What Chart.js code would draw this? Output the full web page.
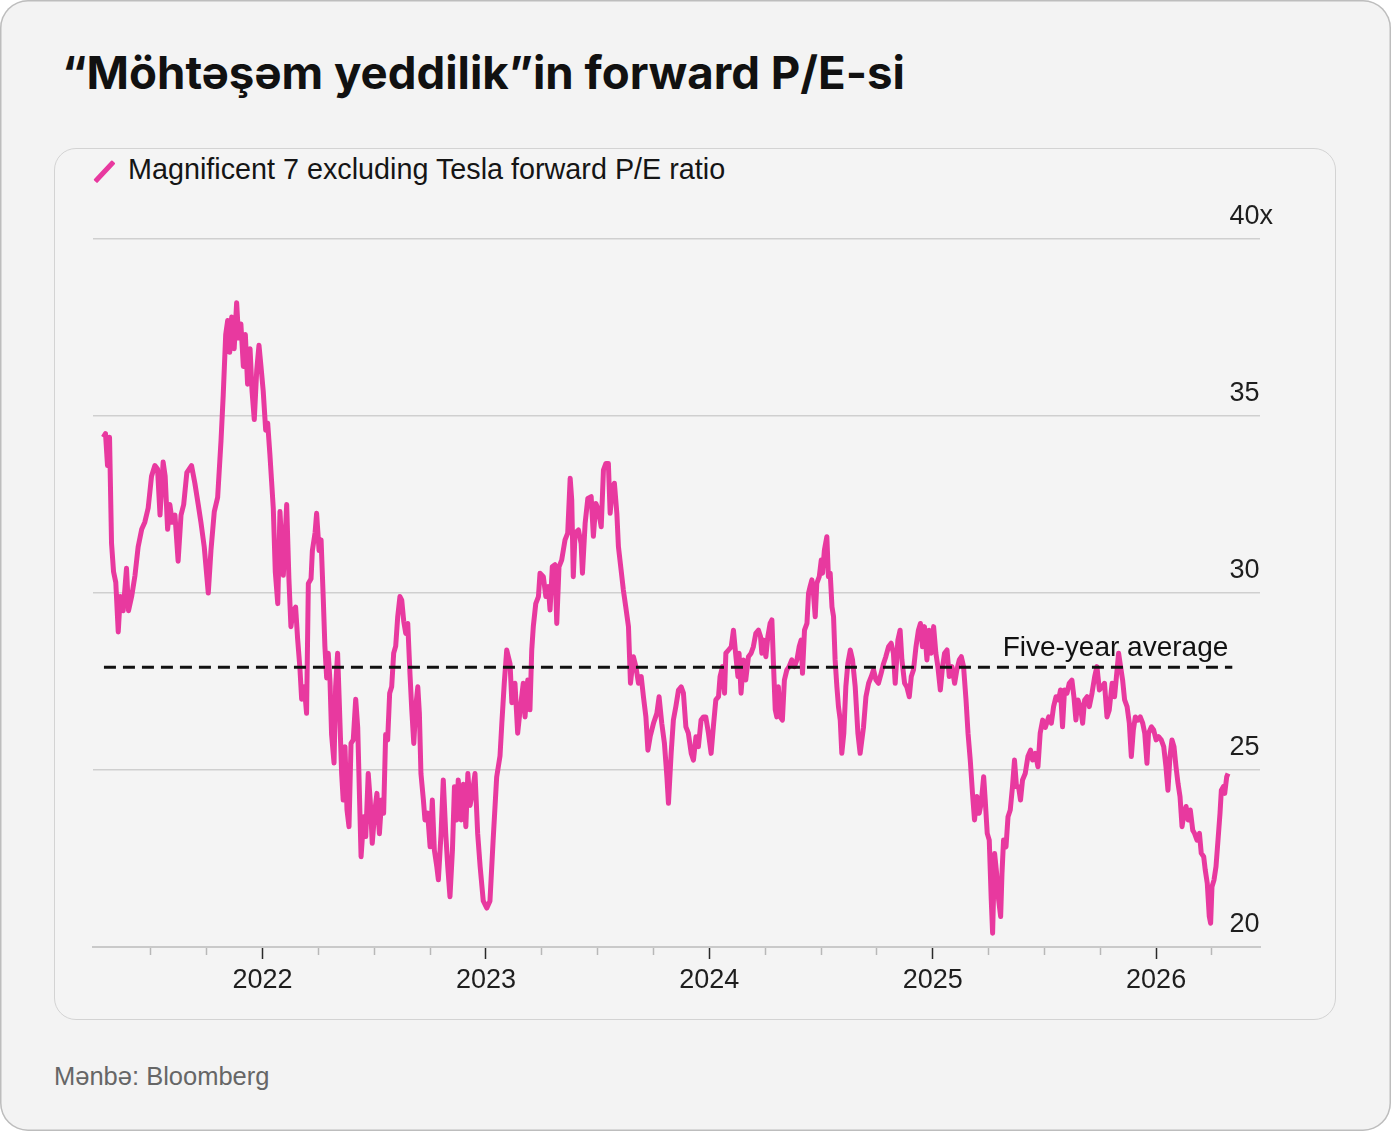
<!DOCTYPE html>
<html lang="az">
<head>
<meta charset="utf-8">
<title>Möhtəşəm yeddilik – forward P/E</title>
<script src="https://cdn.jsdelivr.net/npm/chart.js@4.4.1/dist/chart.umd.min.js"></script>
<style>
  html, body { margin: 0; padding: 0; background: #fff; }
  .frame {
    position: relative; width: 1391px; height: 1131px; overflow: hidden;
    background: #f3f3f3; border-radius: 28px; box-shadow: inset 0 0 0 1.5px #bdbdbd;
    font-family: "Liberation Sans", Arial, sans-serif;
  }
  .title {
    position: absolute; left: 62px; top: 50px; white-space: nowrap;
    font: 700 45.6px Inter, "Liberation Sans", sans-serif; line-height: 1; color: #111;
  }
  .card {
    position: absolute; left: 54px; top: 148px; width: 1282px; height: 872px;
    box-sizing: border-box; border: 1.5px solid #d3d3d3; border-radius: 22px; background: #f4f4f4;
  }
  .legend-mark {
    position: absolute; left: 102px; top: 158px; width: 4.5px; height: 27px;
    background: #e8399f; transform: rotate(43deg); border-radius: 1px;
  }
  .legend-text {
    position: absolute; left: 128px; top: 155px; font-size: 28.75px; line-height: 1; color: #151515;
    white-space: nowrap;
  }
  .chart-box { position: absolute; left: 54px; top: 148px; width: 1282px; height: 872px; }
  .source { position: absolute; left: 54px; top: 1064px; font-size: 25.5px; line-height: 1; color: #666; }
</style>
</head>
<body>
<div class="frame">
  <div class="title">“Möhtəşəm yeddilik”in forward P/E-si</div>
  <div class="card"></div>
  <div class="legend-mark"></div>
  <div class="legend-text">Magnificent 7 excluding Tesla forward P/E ratio</div>
  <div class="chart-box"><canvas id="peChart"></canvas></div>
  <div class="source">Mənbə: Bloomberg</div>
</div>
<script>
const obsDates = [
  2021.287, 2021.297, 2021.306, 2021.315, 2021.324, 2021.333, 2021.343, 2021.354, 2021.363, 2021.376,
  2021.391, 2021.400, 2021.414, 2021.429, 2021.443, 2021.459, 2021.473, 2021.488, 2021.503, 2021.518,
  2021.530, 2021.541, 2021.555, 2021.564, 2021.575, 2021.585, 2021.596, 2021.608, 2021.622, 2021.635,
  2021.647, 2021.661, 2021.682, 2021.697, 2021.712, 2021.724, 2021.739, 2021.757, 2021.769, 2021.784,
  2021.799, 2021.814, 2021.824, 2021.835, 2021.844, 2021.853, 2021.862, 2021.873, 2021.884, 2021.893,
  2021.903, 2021.914, 2021.923, 2021.933, 2021.944, 2021.953, 2021.963, 2021.974, 2021.984, 2021.993,
  2022.003, 2022.014, 2022.023, 2022.033, 2022.048, 2022.057, 2022.068, 2022.078, 2022.093, 2022.108,
  2022.118, 2022.127, 2022.137, 2022.148, 2022.157, 2022.167, 2022.175, 2022.187, 2022.197, 2022.205,
  2022.217, 2022.223, 2022.235, 2022.242, 2022.253, 2022.262, 2022.272, 2022.279, 2022.287, 2022.294,
  2022.302, 2022.309, 2022.320, 2022.327, 2022.336, 2022.343, 2022.354, 2022.361, 2022.369, 2022.378,
  2022.387, 2022.396, 2022.406, 2022.417, 2022.426, 2022.435, 2022.441, 2022.453, 2022.462, 2022.473,
  2022.482, 2022.491, 2022.503, 2022.512, 2022.523, 2022.533, 2022.542, 2022.551, 2022.560, 2022.569,
  2022.578, 2022.587, 2022.596, 2022.605, 2022.615, 2022.623, 2022.632, 2022.641, 2022.650, 2022.660,
  2022.668, 2022.677, 2022.686, 2022.695, 2022.702, 2022.709, 2022.720, 2022.727, 2022.739, 2022.750,
  2022.760, 2022.769, 2022.780, 2022.787, 2022.799, 2022.809, 2022.820, 2022.829, 2022.839, 2022.850,
  2022.859, 2022.869, 2022.876, 2022.889, 2022.899, 2022.910, 2022.919, 2022.929, 2022.939, 2022.951,
  2022.963, 2022.974,
  2022.988, 2023.004, 2023.018, 2023.032, 2023.048, 2023.063, 2023.071, 2023.082, 2023.093, 2023.108,
  2023.116, 2023.130, 2023.142, 2023.153, 2023.167, 2023.175, 2023.187, 2023.197, 2023.205, 2023.212,
  2023.223, 2023.235, 2023.242, 2023.257, 2023.268, 2023.279, 2023.287, 2023.297, 2023.309, 2023.317,
  2023.327, 2023.339, 2023.354, 2023.366, 2023.377, 2023.384, 2023.391, 2023.399, 2023.414, 2023.426,
  2023.432, 2023.444, 2023.456, 2023.471, 2023.481, 2023.492, 2023.503, 2023.516, 2023.526, 2023.537,
  2023.548, 2023.556, 2023.566, 2023.575, 2023.586, 2023.593, 2023.605, 2023.615, 2023.626, 2023.638,
  2023.647, 2023.660, 2023.671, 2023.683, 2023.695, 2023.705, 2023.716, 2023.725, 2023.735, 2023.750,
  2023.765, 2023.775, 2023.787, 2023.799, 2023.810, 2023.817,
  2023.829, 2023.839, 2023.850, 2023.862, 2023.874, 2023.884, 2023.895, 2023.906, 2023.919, 2023.929,
  2023.940, 2023.951, 2023.963, 2023.974, 2023.984, 2023.996, 2024.008, 2024.018, 2024.029, 2024.041,
  2024.048, 2024.059, 2024.068, 2024.074, 2024.086, 2024.098, 2024.108, 2024.119, 2024.128, 2024.133,
  2024.142, 2024.153, 2024.163, 2024.175, 2024.187, 2024.197, 2024.208, 2024.220, 2024.229, 2024.235,
  2024.242, 2024.253, 2024.262, 2024.272, 2024.280, 2024.287, 2024.295, 2024.302, 2024.309, 2024.317,
  2024.327, 2024.336, 2024.347, 2024.357, 2024.369, 2024.381, 2024.392, 2024.402, 2024.411, 2024.417,
  2024.426, 2024.437, 2024.444, 2024.451, 2024.459, 2024.466, 2024.474, 2024.481, 2024.492, 2024.501,
  2024.507, 2024.515, 2024.526, 2024.533, 2024.541, 2024.549, 2024.556, 2024.563, 2024.571, 2024.578,
  2024.586, 2024.593, 2024.602, 2024.611, 2024.620, 2024.631, 2024.641, 2024.653, 2024.665, 2024.675,
  2024.690, 2024.701, 2024.713, 2024.725, 2024.735, 2024.746, 2024.757, 2024.769, 2024.780, 2024.790,
  2024.802, 2024.814, 2024.824, 2024.832, 2024.844, 2024.854, 2024.862, 2024.874, 2024.884, 2024.895,
  2024.904, 2024.914, 2024.925, 2024.936, 2024.945, 2024.954, 2024.963, 2024.974, 2024.984, 2024.993,
  2025.004, 2025.014, 2025.023, 2025.034, 2025.044, 2025.053, 2025.064, 2025.074, 2025.086, 2025.098,
  2025.108, 2025.119, 2025.128, 2025.138, 2025.149, 2025.158, 2025.168, 2025.178, 2025.187, 2025.198,
  2025.208, 2025.217, 2025.228, 2025.235, 2025.244, 2025.253, 2025.262, 2025.268, 2025.277, 2025.286,
  2025.295, 2025.304, 2025.310, 2025.317, 2025.328, 2025.337, 2025.347, 2025.357, 2025.366, 2025.375,
  2025.384, 2025.393, 2025.402, 2025.414, 2025.426, 2025.438, 2025.447, 2025.459, 2025.471, 2025.481,
  2025.492,
  2025.504, 2025.519, 2025.531, 2025.541, 2025.552, 2025.563, 2025.572, 2025.581, 2025.590, 2025.601,
  2025.611, 2025.623, 2025.632, 2025.641, 2025.650, 2025.661, 2025.671, 2025.680, 2025.691, 2025.701,
  2025.713, 2025.725, 2025.735, 2025.746, 2025.758, 2025.769, 2025.780, 2025.790, 2025.803, 2025.814,
  2025.825, 2025.832, 2025.841, 2025.850, 2025.859, 2025.870, 2025.880, 2025.889, 2025.898, 2025.907,
  2025.919, 2025.929, 2025.940, 2025.949, 2025.959, 2025.966, 2025.979, 2025.989, 2026.000, 2026.011,
  2026.023, 2026.034, 2026.044, 2026.053, 2026.062, 2026.071, 2026.080, 2026.089, 2026.098, 2026.107,
  2026.116, 2026.125, 2026.134, 2026.143, 2026.153, 2026.164, 2026.172, 2026.183, 2026.194, 2026.202,
  2026.213, 2026.220, 2026.229, 2026.238, 2026.244, 2026.250, 2026.259, 2026.268, 2026.277, 2026.286,
  2026.292, 2026.301, 2026.307, 2026.316, 2026.322
];

// Magnificent 7 ex Tesla forward P/E (x)
const peRatio = [
  34.4, 34.5, 33.6, 34.4, 31.4, 30.6, 30.3, 28.9, 29.9, 29.5,
  30.7, 29.5, 29.9, 30.5, 31.3, 31.8, 32.0, 32.4, 33.3, 33.6,
  33.5, 32.2, 33.7, 33.3, 31.8, 32.5, 32.0, 32.2, 30.9, 32.2,
  32.5, 33.4, 33.6, 33.1, 32.5, 32.0, 31.3, 30.0, 31.2, 32.3,
  32.7, 34.3, 35.6, 37.3, 37.7, 36.8, 37.8, 36.9, 38.2, 37.2,
  37.6, 36.4, 37.3, 35.9, 36.9, 35.7, 34.9, 36.3, 37.0, 36.4,
  35.7, 34.6, 34.8, 33.9, 32.4, 30.6, 29.7, 32.3, 30.5, 32.5,
  30.4, 29.05, 29.5, 29.6, 28.7, 27.9, 27.0, 27.35, 26.6, 30.27,
  30.4, 31.2, 31.7, 32.25, 31.2, 31.5, 29.8, 28.5, 27.6, 28.3,
  27.5, 26.0, 25.2, 27.35, 28.3, 27.0, 24.9, 24.15, 25.66, 23.87,
  23.4, 25.75, 25.85, 27.0, 26.2, 24.0, 22.55, 23.68, 23.12, 24.9,
  24.15, 22.93, 23.87, 24.34, 23.2, 24.15, 23.78, 26.0, 25.85, 27.17,
  27.35, 28.3, 28.5, 29.33, 29.9, 29.8, 29.2, 28.86, 29.14, 27.7,
  26.7, 25.75, 26.8, 27.35, 26.6, 24.9, 24.15, 23.59, 23.78, 22.83,
  24.15, 22.74, 22.27, 21.9, 23.2, 24.72, 23.2, 22.27, 21.42, 22.74,
  24.53, 23.59, 24.72, 23.59, 24.6, 23.4, 24.9, 24.0, 24.34, 24.9,
  23.2, 22.27,
  21.3, 21.1, 21.3, 23.0, 24.8, 25.4, 26.3, 27.45, 28.39, 28.0,
  26.9, 27.45, 26.04, 26.7, 27.45, 26.5, 27.54, 26.7, 28.39, 29.05,
  29.7, 29.9, 30.56, 30.46, 29.9, 30.18, 29.52, 30.74, 30.8, 29.14,
  30.74, 30.93, 31.5, 31.69, 33.24, 32.63, 30.46, 31.69, 31.78, 31.4,
  30.56, 31.97, 32.67, 32.72, 31.6, 32.53, 32.35, 31.87, 33.47, 33.66,
  33.66, 32.25, 33.0, 33.1, 32.25, 31.31, 30.65, 30.09, 29.6, 29.05,
  27.45, 28.2, 27.92, 27.45, 27.64, 27.07, 26.5, 25.56, 25.94, 26.32,
  26.6, 27.07, 26.32, 25.75, 24.81, 24.06,
  25.47, 26.41, 26.79, 27.26, 27.35, 27.17, 26.22, 26.04, 25.47, 25.28,
  25.94, 25.66, 26.41, 26.5, 26.5, 26.04, 25.47, 26.22, 26.98, 27.07,
  27.64, 27.92, 27.17, 28.3, 28.39, 28.48, 28.95, 28.2, 27.64, 28.3,
  27.17, 28.11, 27.54, 28.2, 28.3, 28.48, 28.86, 28.95, 28.77, 28.3,
  28.67, 28.2, 28.77, 29.14, 29.24, 28.01, 26.7, 26.5, 27.35, 26.5,
  26.41, 27.54, 27.83, 27.92, 28.11, 27.92, 28.11, 28.48, 28.67, 27.73,
  28.95, 29.14, 29.99, 30.18, 30.37, 29.99, 29.33, 30.27, 30.46, 30.93,
  30.56, 31.21, 31.59, 30.46, 30.56, 29.61, 29.33, 28.11, 27.35, 26.79,
  26.41, 25.47, 26.04, 27.35, 28.01, 28.39, 28.11, 27.35, 26.04, 25.47,
  26.2, 27.07, 27.45, 27.64, 27.83, 27.54, 27.45, 27.73, 28.01, 28.2,
  28.48, 28.58, 28.3, 27.45, 28.67, 28.95, 28.11, 27.45, 27.35, 27.07,
  27.64, 27.83, 28.48, 28.95, 29.14, 28.48, 29.05, 28.11, 28.95, 28.3,
  29.05, 28.3, 27.92, 27.26, 27.92, 28.3, 28.39, 27.64, 27.92, 27.45,
  27.83, 28.11, 28.2, 27.92, 26.98, 26.04, 25.28, 24.34, 23.59, 24.25,
  23.78, 24.06, 24.81, 24.15, 23.21, 23.02, 21.33, 20.39, 22.64, 22.08,
  21.33, 20.86, 22.08, 23.02, 22.83, 23.68, 23.87, 24.53, 25.28, 24.53,
  24.53, 24.15, 24.72, 24.9, 25.38, 25.56, 25.28, 25.47, 25.09, 26.04,
  26.41,
  26.2, 26.5, 26.32, 26.79, 27.07, 26.98, 27.26, 26.22, 27.26, 27.17,
  27.45, 27.54, 27.07, 26.41, 26.98, 26.79, 26.32, 26.98, 27.07, 26.79,
  27.17, 27.64, 27.92, 27.26, 27.35, 27.45, 26.5, 26.69, 27.45, 27.07,
  27.82, 28.3, 27.92, 27.54, 26.98, 26.79, 26.32, 25.38, 26.13, 26.5,
  26.41, 26.5, 26.32, 26.04, 25.19, 26.04, 26.22, 26.13, 25.85, 25.94,
  25.85, 25.66, 25.09, 24.43, 25.38, 25.85, 25.66, 25.09, 24.62, 24.25,
  23.4, 23.78, 23.97, 23.59, 23.87, 23.3, 23.21, 23.02, 23.21, 22.65,
  22.55, 22.17, 21.8, 20.86, 20.67, 21.7, 21.89, 22.27, 23.02, 23.78,
  24.43, 24.53, 24.34, 24.81, 24.9
];

const fiveYearAvg = 27.9;
const avgSpan = [2021.290, 2026.341];
const quarterTicks = [
  2021.5, 2021.75, 2022, 2022.25, 2022.5, 2022.75, 2023, 2023.25, 2023.5, 2023.75,
  2024, 2024.25, 2024.5, 2024.75, 2025, 2025.25, 2025.5, 2025.75, 2026, 2026.25
];
const yMin = 20, yMax = 40, yStep = 5;

if (obsDates.length !== peRatio.length) {
  console.warn('length mismatch', obsDates.length, peRatio.length);
}

const pink = '#e8399f';
Chart.defaults.font.family = '"Liberation Sans", Arial, sans-serif';
Chart.defaults.color = '#1e1e1e';

const isYear = v => Number.isInteger(v);

// text above the end of the dashed line
const avgLabel = {
  id: 'avgLabel',
  afterDatasetsDraw(chart) {
    const end = chart.getDatasetMeta(0).data[1];
    const c = chart.ctx;
    c.save();
    c.font = '28px "Liberation Sans", Arial, sans-serif';
    c.fillStyle = '#111';
    c.textAlign = 'right';
    c.textBaseline = 'alphabetic';
    c.fillText('Five-year average', end.x - 4, end.y - 11);
    c.restore();
  }
};

new Chart(document.getElementById('peChart'), {
  type: 'line',
  data: {
    datasets: [
      {
        label: 'Five-year average',
        data: avgSpan.map(x => ({ x: x, y: fiveYearAvg })),
        borderColor: '#111',
        borderWidth: 3,
        borderDash: [12, 7],
        pointRadius: 0
      },
      {
        label: 'Magnificent 7 excluding Tesla forward P/E ratio',
        data: obsDates.map((d, i) => ({ x: d, y: peRatio[i] })),
        borderColor: pink,
        borderWidth: 5,
        borderJoinStyle: 'round',
        pointRadius: 0,
        tension: 0
      }
    ]
  },
  options: {
    responsive: true,
    maintainAspectRatio: false,
    animation: false,
    layout: { padding: { left: 39, top: 91, right: 0, bottom: 0 } },
    plugins: { legend: { display: false }, tooltip: { enabled: false } },
    scales: {
      x: {
        type: 'linear',
        min: 2021.241,
        max: 2026.465,
        afterBuildTicks: s => { s.ticks = quarterTicks.map(v => ({ value: v })); },
        afterFit: s => { s.height = 73; },
        grid: {
          drawOnChartArea: false,
          drawTicks: true,
          tickLength: 12,
          tickWidth: 1.5,
          tickColor: c => isYear(c.tick.value) ? '#2a2a2a' : '#b8b8b8',
          tickBorderDash: c => isYear(c.tick.value) ? [] : [7, 40]
        },
        border: { display: true, color: '#c9c9c9', width: 2 },
        ticks: {
          autoSkip: false,
          maxRotation: 0,
          padding: 5,
          font: { size: 27 },
          callback: v => isYear(v) ? String(v) : ''
        }
      },
      y: {
        position: 'right',
        min: yMin,
        max: yMax,
        afterFit: s => { s.width = 76; },
        grid: { color: '#cfcfcf', lineWidth: 1.5, drawTicks: false },
        border: { display: false },
        ticks: {
          stepSize: yStep,
          mirror: true,
          padding: 13,
          labelOffset: -22,
          font: { size: 27 },
          // en space keeps the numbers lined up with "40x" on its left edge
          callback: v => v === yMax ? v + 'x' : v + '\u2002'
        }
      }
    }
  },
  plugins: [avgLabel]
});
</script>
</body>
</html>
